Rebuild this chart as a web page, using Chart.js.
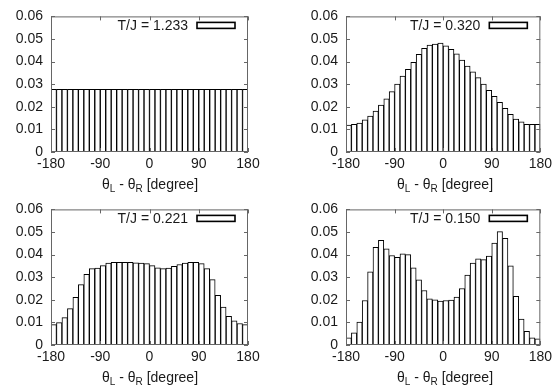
<!DOCTYPE html>
<html>
<head>
<meta charset="utf-8">
<script src="https://cdn.jsdelivr.net/npm/chart.js@4.4.0/dist/chart.umd.min.js"></script>
<style>
  body { margin: 0; background: #fff; width: 556px; height: 386px; position: relative; overflow: hidden;
         font-family: "Liberation Sans", Arial, sans-serif; }
  .panel { position: absolute; width: 278px; height: 193px; }
  .xt { position: absolute; font-size: 14px; line-height: 16px; color: #1a1a1a; white-space: nowrap;
        transform: translateX(-50%); }
  .xt sub { font-size: 10px; vertical-align: -3px; line-height: 0; }
</style>
</head>
<body>
<div class="panel" style="left:0;top:0"><canvas id="c1" width="278" height="193"></canvas></div>
<div class="panel" style="left:278px;top:0"><canvas id="c2" width="278" height="193"></canvas></div>
<div class="panel" style="left:0;top:193px"><canvas id="c3" width="278" height="193"></canvas></div>
<div class="panel" style="left:278px;top:193px"><canvas id="c4" width="278" height="193"></canvas></div>
<div class="xt" style="left:150px;top:176px">θ<sub>L</sub> - θ<sub>R</sub> [degree]</div>
<div class="xt" style="left:445px;top:176px">θ<sub>L</sub> - θ<sub>R</sub> [degree]</div>
<div class="xt" style="left:150px;top:369px">θ<sub>L</sub> - θ<sub>R</sub> [degree]</div>
<div class="xt" style="left:445px;top:369px">θ<sub>L</sub> - θ<sub>R</sub> [degree]</div>
<script>
(function () {
  // centres des classes (10 degrés)
  const binCenters = [-175, -165, -155, -145, -135, -125, -115, -105, -95, -85, -75, -65,
                      -55, -45, -35, -25, -15, -5, 5, 15, 25, 35, 45, 55,
                      65, 75, 85, 95, 105, 115, 125, 135, 145, 155, 165, 175];
  const xTicks = [-180, -90, 0, 90, 180];
  const yTicks = [0, 0.01, 0.02, 0.03, 0.04, 0.05, 0.06];

  const labelT1233 = 'T/J = 1.233';
  const labelT0320 = 'T/J = 0.320';
  const labelT0221 = 'T/J = 0.221';
  const labelT0150 = 'T/J = 0.150';

  const valuesT1233 = [0.0277, 0.0277, 0.0277, 0.0277, 0.0277, 0.0277, 0.0277, 0.0277, 0.0277, 0.0277, 0.0277, 0.0277,
                       0.0277, 0.0277, 0.0277, 0.0277, 0.0277, 0.0277, 0.0277, 0.0277, 0.0277, 0.0277, 0.0277, 0.0277,
                       0.0277, 0.0277, 0.0277, 0.0277, 0.0277, 0.0277, 0.0277, 0.0277, 0.0277, 0.0277, 0.0277, 0.0277];
  const valuesT0320 = [0.0119, 0.0122, 0.0128, 0.0142, 0.0159, 0.0181, 0.0208, 0.0235, 0.0267, 0.0300, 0.0336, 0.0366,
                       0.0397, 0.0432, 0.0459, 0.0473, 0.0478, 0.0482, 0.0470, 0.0454, 0.0434, 0.0407, 0.0380, 0.0355,
                       0.0329, 0.0300, 0.0273, 0.0246, 0.0220, 0.0193, 0.0167, 0.0146, 0.0134, 0.0122, 0.0122, 0.0122];
  const valuesT0221 = [0.0090, 0.0099, 0.0121, 0.0161, 0.0211, 0.0267, 0.0313, 0.0338, 0.0340, 0.0351, 0.0363, 0.0366,
                       0.0366, 0.0366, 0.0366, 0.0364, 0.0363, 0.0360, 0.0351, 0.0341, 0.0338, 0.0340, 0.0348, 0.0356,
                       0.0363, 0.0366, 0.0366, 0.0360, 0.0338, 0.0289, 0.0220, 0.0168, 0.0127, 0.0107, 0.0095, 0.0090];
  const valuesT0150 = [0.0032, 0.0054, 0.0101, 0.0197, 0.0324, 0.0432, 0.0463, 0.0425, 0.0396, 0.0388, 0.0403, 0.0400,
                       0.0341, 0.0288, 0.0241, 0.0204, 0.0200, 0.0194, 0.0197, 0.0199, 0.0212, 0.0250, 0.0309, 0.0362,
                       0.0381, 0.0378, 0.0393, 0.0451, 0.0502, 0.0472, 0.0350, 0.0215, 0.0115, 0.0060, 0.0032, 0.0027];

  const FONT = { family: '"Liberation Sans", Arial, sans-serif', size: 14 };
  const INK = '#1a1a1a';

  // cadre façon gnuplot : bordure, graduations vers l'intérieur, légende en haut à droite
  const framePlugin = {
    id: 'frame',
    afterDatasetsDraw(chart) {
      const { ctx, chartArea: a, scales: { x, y } } = chart;
      ctx.save();
      ctx.strokeStyle = '#666';
      ctx.lineWidth = 1;
      ctx.strokeRect(a.left + 0.5, a.top + 0.5, a.width - 1, a.height - 1);
      ctx.beginPath();
      y.ticks.forEach(t => {
        const py = Math.round(y.getPixelForValue(t.value)) + 0.5;
        ctx.moveTo(a.left, py); ctx.lineTo(a.left + 4, py);
        ctx.moveTo(a.right, py); ctx.lineTo(a.right - 4, py);
      });
      x.ticks.forEach(t => {
        const px = Math.round(x.getPixelForValue(t.value)) + 0.5;
        ctx.moveTo(px, a.top); ctx.lineTo(px, a.top + 4);
        ctx.moveTo(px, a.bottom); ctx.lineTo(px, a.bottom - 4);
      });
      ctx.stroke();

      const ds = chart.data.datasets[0];
      const bw = 38, bh = 6;
      const bx = a.right - 13 - bw, by = a.top + 6;
      ctx.font = `${FONT.size}px ${FONT.family}`;
      ctx.fillStyle = INK;
      ctx.textAlign = 'right';
      ctx.textBaseline = 'middle';
      ctx.fillText(ds.label, bx - 9, by + bh / 2 + 1);
      ctx.fillStyle = '#fff';
      ctx.fillRect(bx, by, bw, bh);
      ctx.lineWidth = 1.6;
      ctx.strokeStyle = '#000';
      ctx.strokeRect(bx, by, bw, bh);
      ctx.restore();
    }
  };

  function makeChart(id, label, values, leftWidth, rightPad) {
    const ctx = document.getElementById(id).getContext('2d');
    return new Chart(ctx, {
      type: 'bar',
      data: {
        datasets: [{
          label: label,
          data: binCenters.map((c, i) => ({ x: c, y: values[i] })),
          backgroundColor: '#fff',
          borderColor: '#000',
          borderWidth: 1,
          barPercentage: 1,
          categoryPercentage: 1
        }]
      },
      options: {
        responsive: false,
        animation: false,
        layout: { padding: { left: 0, right: rightPad, top: 16, bottom: 0 } },
        plugins: { legend: { display: false }, tooltip: { enabled: false } },
        scales: {
          x: {
            type: 'linear',
            min: xTicks[0],
            max: xTicks[xTicks.length - 1],
            offset: false,
            grid: { display: false, drawTicks: false, offset: false },
            border: { display: false },
            afterBuildTicks: s => { s.ticks = xTicks.map(v => ({ value: v })); },
            afterFit: s => { s.height = 41; },
            ticks: { color: INK, font: FONT, padding: 4, maxRotation: 0, autoSkip: false }
          },
          y: {
            min: yTicks[0],
            max: yTicks[yTicks.length - 1],
            grid: { display: false, drawTicks: false },
            border: { display: false },
            afterBuildTicks: s => { s.ticks = yTicks.map(v => ({ value: v })); },
            afterFit: s => { s.width = leftWidth; },
            ticks: {
              color: INK, font: FONT, padding: 8,
              callback: v => (v === 0 ? '0' : v.toFixed(2))
            }
          }
        }
      },
      plugins: [framePlugin]
    });
  }

  makeChart('c1', labelT1233, valuesT1233, 51, 30);
  makeChart('c2', labelT0320, valuesT0320, 68, 12);
  makeChart('c3', labelT0221, valuesT0221, 51, 30);
  makeChart('c4', labelT0150, valuesT0150, 68, 12);
})();
</script>
</body>
</html>
